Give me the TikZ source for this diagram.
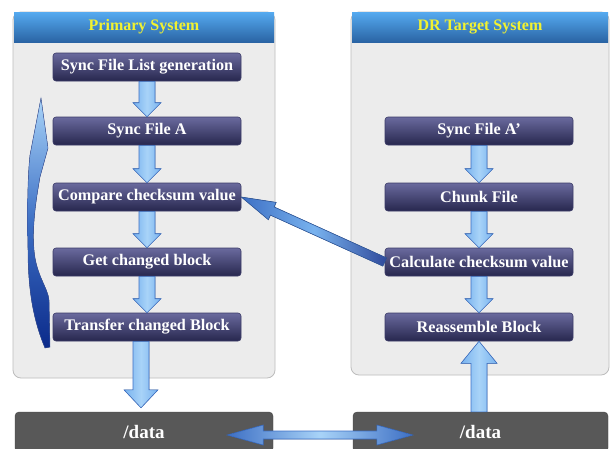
\documentclass[tikz,border=0pt]{standalone}
\usepackage{fontspec}
\setmainfont{Liberation Serif}
\usetikzlibrary{calc}
\definecolor{boxtop}{HTML}{6A6A9E}
\definecolor{boxbot}{HTML}{27274E}
\definecolor{boxedge}{HTML}{3C3C68}
\definecolor{panelfill}{HTML}{ECECEC}
\definecolor{paneledge}{HTML}{BDBDBD}
\definecolor{headtop}{HTML}{55AAF0}
\definecolor{headbot}{HTML}{2A64A4}
\definecolor{headtext}{HTML}{F2F230}
\definecolor{datafill}{HTML}{585858}
\definecolor{arrlight}{HTML}{A8D3F8}
\definecolor{arrmid}{HTML}{78B2EE}
\definecolor{arredge}{HTML}{3D6FC4}
\definecolor{arrdark}{HTML}{0B2A8A}
\newcommand\blockarr[6][]{%
  \coordinate (ba-h) at ($(#3)!#6!(#2)$);
  \filldraw[#1] ($(#2)!#4!90:(#3)$) -- ($(ba-h)!#4!90:(#3)$) -- ($(ba-h)!#5!90:(#3)$) -- (#3)
    -- ($(ba-h)!#5!-90:(#3)$) -- ($(ba-h)!#4!-90:(#3)$) -- ($(#2)!#4!-90:(#3)$) -- cycle;}
\tikzset{
  proc/.style={rectangle, rounded corners=3pt, minimum width=188pt, minimum height=28pt,
    top color=boxtop, bottom color=boxbot, draw=boxedge, line width=0.6pt, text=white,
    font=\bfseries\fontsize{16.2}{17}\selectfont, inner sep=0pt},
  panelbody/.style={rectangle, rounded corners=8pt, fill=panelfill, draw=paneledge, line width=0.8pt},
  header/.style={rectangle, top color=headtop, bottom color=headbot, text=headtext,
    font=\bfseries\fontsize{16}{17}\selectfont, inner sep=0pt},
  datab/.style={rectangle, rounded corners=4pt, fill=datafill, draw=datafill!80!black, text=white,
    font=\bfseries\fontsize{19}{20}\selectfont, minimum height=40pt, inner sep=0pt},
  varr/.style={draw=arredge, line width=0.6pt, left color=arrmid, right color=arrmid, middle color=arrlight},
  diagarr/.style={draw=arredge!80!black, line width=0.6pt, left color=arredge, right color=arrdark!85, middle color=arrmid},
  dblarr/.style={draw=arredge, line width=0.6pt, left color=arredge, right color=arredge, middle color=arrlight},
  curvarr/.style={top color=arrlight, bottom color=arrdark, middle color=arredge, draw=arrdark!80, line width=0.4pt},
}
\begin{document}
\begin{tikzpicture}[x=1pt,y=-1pt]
\useasboundingbox (0,0) rectangle (616,448);
\clip (0,0) rectangle (616,448);
\fill[white] (0,0) rectangle (616,448);
% panels
\node[panelbody, minimum width=262pt, minimum height=366pt] (pL) at (144,195) {};
\node[header, minimum width=260pt, minimum height=30pt] (hL) at (144,27) {Primary System};
\node[panelbody, minimum width=258pt, minimum height=363pt] (pR) at (480,193.5) {};
\node[header, minimum width=256pt, minimum height=30pt] (hR) at (480,27) {DR Target System};
% left boxes
\node[proc] (l1) at (147,67) {Sync File List generation};
\node[proc] (l2) at (147,131) {Sync File A};
\node[proc] (l3) at (147,197) {Compare checksum value};
\node[proc] (l4) at (147,262) {Get changed block};
\node[proc] (l5) at (147,327) {Transfer changed Block};
% right boxes
\node[proc] (r1) at (479,131) {Sync File A’};
\node[proc] (r2) at (479,197) {Chunk File};
\node[proc] (r3) at (479,262) {Calculate checksum value};
\node[proc] (r4) at (479,327) {Reassemble Block};
% data
\node[datab, minimum width=258pt] (dL) at (144,432) {/data};
\node[datab, minimum width=255pt] (dR) at (480.5,432) {/data};
% vertical arrows
\blockarr[varr]{l1.south}{l2.north}{8pt}{14pt}{14pt}
\blockarr[varr]{l2.south}{l3.north}{8pt}{14pt}{14pt}
\blockarr[varr]{l3.south}{l4.north}{8pt}{14pt}{14pt}
\blockarr[varr]{l4.south}{l5.north}{8pt}{14pt}{14pt}
\blockarr[varr]{r1.south}{r2.north}{8pt}{14pt}{14pt}
\blockarr[varr]{r2.south}{r3.north}{8pt}{14pt}{14pt}
\blockarr[varr]{r3.south}{r4.north}{8pt}{14pt}{14pt}
\coordinate (lt) at ($(l5.south |- dL.north)+(-6,-4)$);
\coordinate (ls) at ($(l5.south)+(-6,0)$);
\blockarr[varr]{ls}{lt}{8pt}{17pt}{18pt}
\coordinate (rs) at (r4.south |- dR.north);
\blockarr[varr]{rs}{r4.south}{8pt}{18pt}{22pt}
% diagonal arrow
\blockarr[diagarr]{r3.west}{l3.east}{4.5pt}{9.5pt}{34pt}
% double arrow
\coordinate (dA) at ($(dL.east)+(-46,3)$);
\coordinate (dB) at ($(dR.west)+(60,3)$);
\coordinate (h1) at ($(dA)!36pt!(dB)$);
\coordinate (h2) at ($(dB)!36pt!(dA)$);
\filldraw[dblarr] (dA) -- ($(h1)!10pt!90:(dB)$) -- ($(h1)!4pt!90:(dB)$) -- ($(h2)!4pt!-90:(dA)$)
  -- ($(h2)!10pt!-90:(dA)$) -- (dB) -- ($(h2)!10pt!90:(dA)$) -- ($(h2)!4pt!90:(dA)$)
  -- ($(h1)!4pt!-90:(dB)$) -- ($(h1)!10pt!-90:(dB)$) -- cycle;
% curved loop arrow
\filldraw[curvarr] (41,98) -- (48,148) -- (40,177) .. controls (36,200) and (32,225) .. (34,250)
  .. controls (36,275) and (48,288) .. (49,300) -- (50,347) -- (45,348)
  .. controls (34,322) and (28,292) .. (28,250) .. controls (27,205) and (28,172) .. (30,155) -- cycle;
\end{tikzpicture}
\end{document}
